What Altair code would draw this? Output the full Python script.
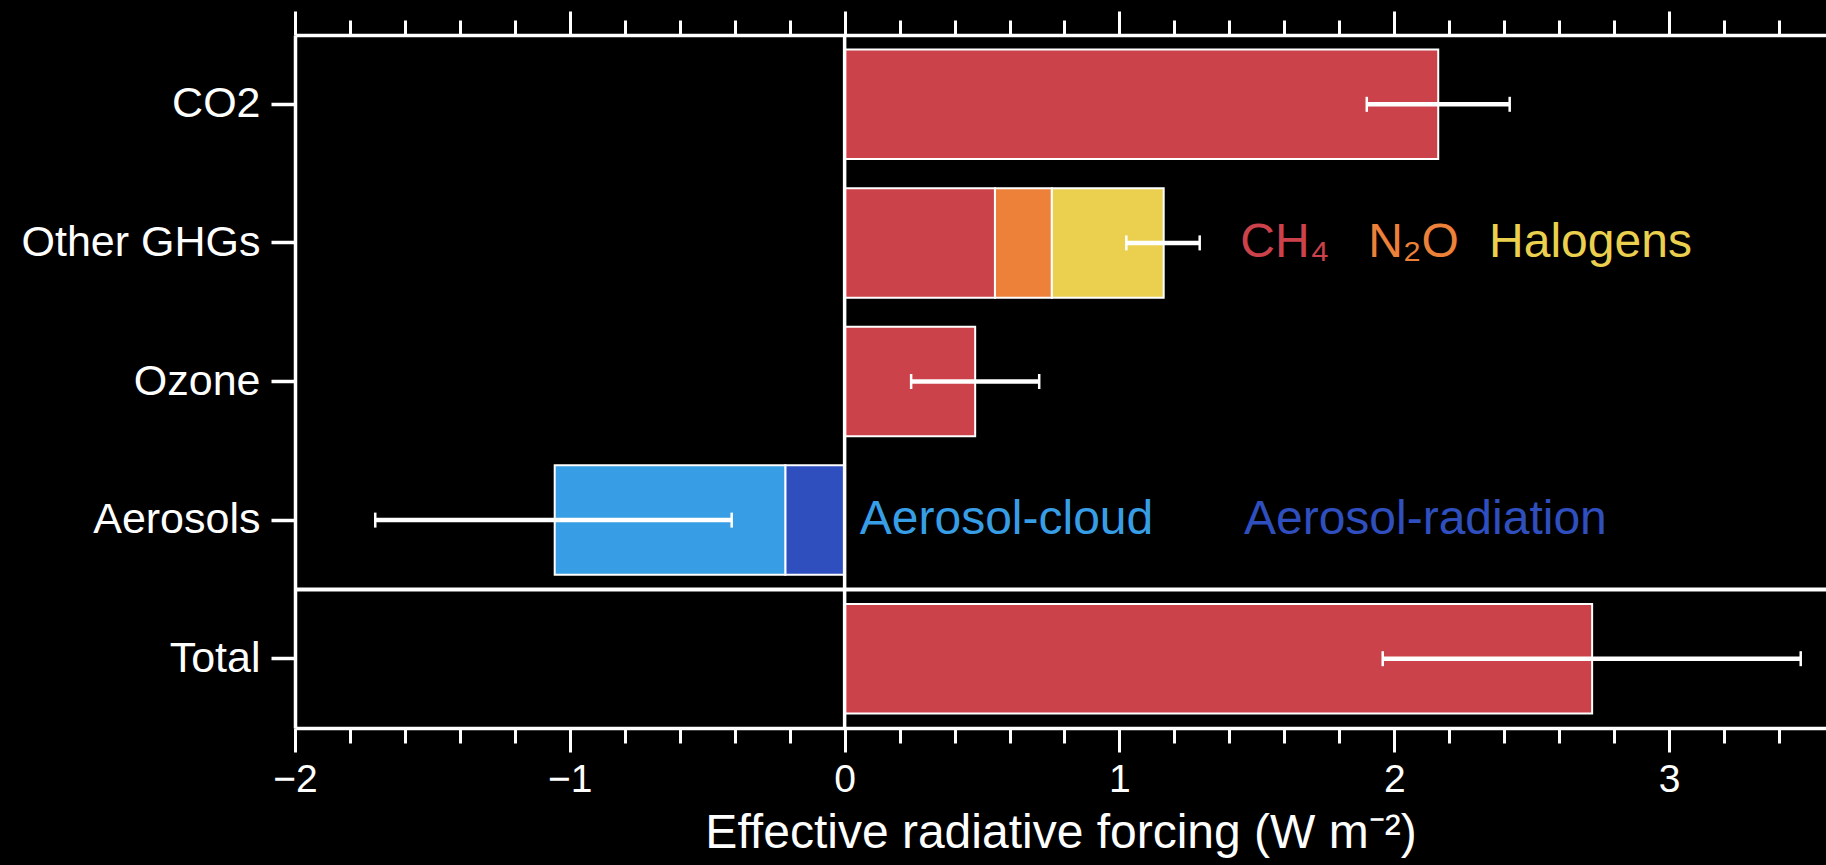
import altair as alt
import pandas as pd

# ---------------- data ----------------
categories = ["CO2", "Other GHGs", "Ozone", "Aerosols", "Total"]

comp_category = ["CO2", "Other GHGs", "Other GHGs", "Other GHGs", "Ozone",
                 "Aerosols", "Aerosols", "Total"]
comp_name = ["CO2", "CH4", "N2O", "Halogens", "Ozone",
             "Aerosol-radiation", "Aerosol-cloud", "Total"]
comp_value = [2.16, 0.547, 0.207, 0.407, 0.475, -0.216, -0.839, 2.72]

err_low = [1.90, 1.025, 0.242, -1.708, 1.958]
err_high = [2.42, 1.292, 0.708, -0.411, 3.479]

label_text = ["CH\u2084", "N\u2082O", "Halogens", "Aerosol-cloud", "Aerosol-radiation"]
label_key = ["CH4", "N2O", "Halogens", "Aerosol-cloud", "Aerosol-radiation"]
label_category = ["Other GHGs", "Other GHGs", "Other GHGs", "Aerosols", "Aerosols"]
label_x = [1.44, 1.905, 2.345, 0.055, 1.453]

tick_values = [-2.0, -1.8, -1.6, -1.4, -1.2, -1.0, -0.8, -0.6, -0.4, -0.2,
               0.0, 0.2, 0.4, 0.6, 0.8, 1.0, 1.2, 1.4, 1.6, 1.8,
               2.0, 2.2, 2.4, 2.6, 2.8, 3.0, 3.2, 3.4]

RED, ORANGE, YELLOW = "#CC424B", "#ED8139", "#EAD04E"
LBLUE, DBLUE = "#379EE5", "#2F4FBF"
color_domain = ["CO2", "CH4", "N2O", "Halogens", "Ozone",
                "Aerosol-radiation", "Aerosol-cloud", "Total"]
color_range = [RED, RED, ORANGE, YELLOW, RED, DBLUE, LBLUE, RED]

# ---------------- tables ----------------
starts, ends = [], []
running = {}
for cat, v in zip(comp_category, comp_value):
    s = running.get(cat, 0.0)
    starts.append(s)
    ends.append(s + v)
    running[cat] = s + v
bars_df = pd.DataFrame({"category": comp_category, "component": comp_name,
                        "start": starts, "end": ends})
err_df = pd.DataFrame({"category": categories, "lo": err_low, "hi": err_high})
lab_df = pd.DataFrame({"category": label_category, "component": label_key,
                       "text": label_text, "x": label_x})
sep_df = pd.DataFrame({"category": ["Total"]})

FONT = "Liberation Sans"
xscale = alt.Scale(domain=[-2, 3.571], nice=False, zero=False)
yscale = alt.Scale(domain=categories, paddingInner=0, paddingOuter=0)
cscale = alt.Scale(domain=color_domain, range=color_range)

major_test = "abs(datum.value - round(datum.value)) < 0.01"
tick_size = {"condition": {"test": major_test, "value": 24}, "value": 15}

bottom_axis = alt.Axis(
    orient="bottom", values=tick_values, tickSize=tick_size, tickWidth=3,
    tickColor="white", domainColor="white", domainWidth=3.5,
    labelExpr=f"{major_test} ? format(datum.value, 'd') : ''",
    labelFontSize=39, labelColor="white", labelFont=FONT, labelPadding=8,
    labelFlush=False, labelOverlap=False,
    title="Effective radiative forcing (W m\u207b\u00b2)", titleFontSize=48,
    titleFont=FONT, titleFontWeight="normal", titleColor="white",
    titlePadding=10, grid=False)
top_axis = alt.Axis(
    orient="top", values=tick_values, tickSize=tick_size, tickWidth=3,
    tickColor="white", domainColor="white", domainWidth=3.5, labels=False,
    title=None, grid=False)
y_axis = alt.Axis(
    orient="left", title=None, tickSize=24, tickWidth=3.5, tickColor="white",
    domainColor="white", domainWidth=3.5, labelFontSize=43, labelLimit=0,
    labelColor="white", labelFont=FONT, labelPadding=11, grid=False)

Y = alt.Y("category:N", scale=yscale, sort=categories, axis=None)

bars = alt.Chart(bars_df).mark_bar(
    height={"band": 0.79}, stroke="white", strokeWidth=2
).encode(
    x=alt.X("start:Q", scale=xscale, axis=bottom_axis),
    x2="end:Q",
    y=alt.Y("category:N", scale=yscale, sort=categories, axis=y_axis),
    color=alt.Color("component:N", scale=cscale, legend=None),
)

zero = alt.Chart(sep_df).mark_rule(color="white", strokeWidth=3.5).encode(
    x=alt.X(datum=0, type="quantitative", scale=xscale, axis=None)
)

sep = alt.Chart(sep_df).mark_rule(color="white", strokeWidth=4).encode(
    y=alt.Y("category:N", scale=yscale, sort=categories, axis=None, bandPosition=0)
)

err = alt.Chart(err_df).mark_rule(color="white", strokeWidth=4.5).encode(
    x=alt.X("lo:Q", scale=xscale, axis=top_axis),
    x2="hi:Q",
    y=Y,
)

caps = alt.Chart(err_df).transform_fold(
    ["lo", "hi"], as_=["end", "val"]
).mark_tick(orient="vertical", color="white", size=15, thickness=2.5, opacity=1).encode(
    x=alt.X("val:Q", scale=xscale, axis=None),
    y=Y,
)

labels = alt.Chart(lab_df).mark_text(
    align="left", baseline="middle", fontSize=48, font=FONT
).encode(
    x=alt.X("x:Q", scale=xscale, axis=None),
    y=Y,
    text="text:N",
    color=alt.Color("component:N", scale=cscale, legend=None),
)

chart = alt.layer(bars, zero, sep, err, caps, labels).resolve_axis(
    x="independent", y="independent"
).properties(
    width=1531, height=693,
    autosize=alt.AutoSizeParams(type="none"),
    padding={"left": 295, "top": 35, "right": 0, "bottom": 137},
    background="black",
).configure_view(stroke=None)

chart.save("out.html", embed_options={"renderer": "svg", "actions": False})
